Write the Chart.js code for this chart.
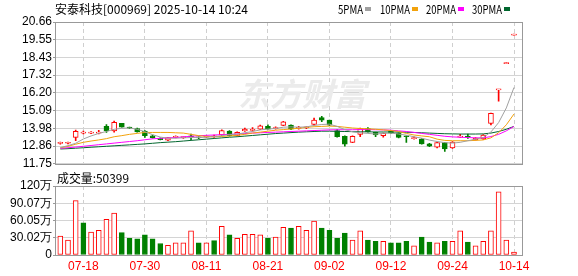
<!DOCTYPE html>
<html>
<head>
<meta charset="utf-8">
<script src="https://cdn.jsdelivr.net/npm/chart.js@4.4.1/dist/chart.umd.min.js"></script>
<style>
html, body { margin: 0; padding: 0; background: #fff; }
#wrap { position: relative; width: 578px; height: 276px; }
#price { position: absolute; left: 0; top: 0; }
#vol { position: absolute; left: 0; top: 172px; }
</style>
</head>
<body>
<div id="wrap">
  <canvas id="price" width="578" height="172"></canvas>
  <canvas id="vol" width="578" height="104"></canvas>
</div>
<script>
// 交易日
const dates = [
  '07-15','07-16','07-17','07-18','07-21','07-22','07-23','07-24','07-25','07-28',
  '07-29','07-30','07-31','08-01','08-04','08-05','08-06','08-07','08-08','08-11',
  '08-12','08-13','08-14','08-15','08-18','08-19','08-20','08-21','08-22','08-25',
  '08-26','08-27','08-28','08-29','09-01','09-02','09-03','09-04','09-05','09-08',
  '09-09','09-10','09-11','09-12','09-15','09-16','09-17','09-18','09-19','09-22',
  '09-23','09-24','09-25','09-26','09-29','09-30','10-09','10-10','10-13','10-14'
];

// K线
const opens = [
  13.03, 13.04, 13.41, 13.68, 13.68, 13.68, 14.10, 13.81, 14.30, 14.02,
  13.97, 13.81, 13.51, 13.35, 13.23, 13.41, 13.39, 13.46, 13.43, 13.43,
  13.44, 13.56, 13.81, 13.54, 13.81, 13.85, 13.93, 14.10, 13.96, 14.16,
  14.18, 13.98, 14.01, 14.22, 14.66, 14.49, 13.83, 13.47, 13.10, 13.60,
  13.97, 13.72, 13.51, 13.81, 13.68, 13.47, 13.33, 13.31, 13.01, 12.79,
  13.08, 12.75, 13.43, 13.45, 13.25, 13.31, 14.28, 16.40, 18.04, 19.84
];
const closes = [
  13.06, 13.07, 13.79, 13.71, 13.71, 13.71, 13.81, 14.35, 14.05, 13.99,
  13.76, 13.51, 13.39, 13.27, 13.39, 13.44, 13.42, 13.44, 13.38, 13.46,
  13.47, 13.83, 13.51, 13.72, 13.93, 13.88, 14.14, 13.93, 13.99, 14.39,
  13.93, 14.01, 14.03, 14.49, 14.49, 14.18, 13.45, 12.99, 13.47, 13.97,
  13.76, 13.56, 13.66, 13.68, 13.41, 13.45, 13.36, 13.00, 12.85, 13.08,
  12.68, 13.12, 13.45, 13.43, 13.37, 13.56, 14.92, 16.40, 18.04, 19.84
];
const highs = [
  13.12, 13.12, 13.87, 13.80, 13.78, 13.85, 14.22, 14.43, 14.30, 14.05,
  13.99, 13.83, 13.55, 13.38, 13.41, 13.50, 13.45, 13.62, 13.45, 13.50,
  13.55, 13.88, 13.83, 13.76, 14.00, 14.02, 14.18, 14.20, 14.08, 14.42,
  14.20, 14.10, 14.08, 14.62, 14.74, 14.50, 13.90, 13.50, 13.50, 14.00,
  14.02, 13.75, 13.68, 13.83, 13.70, 13.50, 13.45, 13.33, 13.03, 13.10,
  13.10, 13.15, 13.60, 13.62, 13.39, 13.58, 14.93, 16.40, 18.04, 19.84
];
const lows = [
  12.98, 13.00, 13.20, 13.62, 13.64, 13.62, 13.72, 13.73, 14.05, 13.95,
  13.74, 13.40, 13.36, 13.25, 13.21, 13.38, 13.35, 13.27, 13.33, 13.40,
  13.40, 13.50, 13.48, 13.50, 13.78, 13.80, 13.90, 13.92, 13.93, 14.14,
  13.90, 13.92, 13.95, 14.18, 14.40, 14.15, 13.42, 12.85, 13.08, 13.45,
  13.74, 13.45, 13.42, 13.66, 13.38, 13.10, 13.30, 12.98, 12.83, 12.75,
  12.53, 12.72, 13.40, 13.35, 13.23, 13.28, 14.20, 15.69, 18.04, 19.84
];

// 均线
const ma5 = [
  12.77, 12.89, 13.04, 13.31, 13.50, 13.66, 13.78, 13.92, 13.98, 14.00,
  13.92, 13.76, 13.58, 13.43, 13.36, 13.36, 13.38, 13.40, 13.40, 13.42,
  13.45, 13.52, 13.58, 13.62, 13.70, 13.78, 13.88, 13.93, 13.97, 14.05,
  14.07, 14.05, 14.07, 14.16, 14.22, 14.24, 14.10, 13.90, 13.76, 13.70,
  13.66, 13.62, 13.66, 13.68, 13.62, 13.55, 13.45, 13.36, 13.24, 13.15,
  13.08, 13.05, 13.10, 13.20, 13.30, 13.40, 13.75, 14.34, 15.26, 16.55
];
const ma10 = [
  12.75, 12.85, 12.98, 13.10, 13.18, 13.25, 13.33, 13.45, 13.52, 13.60,
  13.66, 13.72, 13.72, 13.72, 13.72, 13.70, 13.68, 13.60, 13.52, 13.47,
  13.45, 13.47, 13.50, 13.54, 13.60, 13.68, 13.74, 13.80, 13.86, 13.90,
  13.94, 13.98, 14.04, 14.08, 14.10, 14.12, 14.10, 14.05, 14.00, 13.97,
  13.95, 13.92, 13.88, 13.84, 13.78, 13.66, 13.56, 13.50, 13.45, 13.30,
  13.22, 13.20, 13.20, 13.20, 13.22, 13.25, 13.38, 13.70, 14.20, 14.88
];
const ma20 = [
  12.72, 12.76, 12.80, 12.85, 12.90, 12.95, 13.00, 13.05, 13.10, 13.15,
  13.20, 13.26, 13.32, 13.35, 13.38, 13.40, 13.44, 13.48, 13.51, 13.54,
  13.56, 13.58, 13.60, 13.62, 13.65, 13.68, 13.70, 13.72, 13.74, 13.76,
  13.78, 13.80, 13.82, 13.84, 13.86, 13.88, 13.89, 13.89, 13.89, 13.90,
  13.90, 13.89, 13.88, 13.86, 13.82, 13.78, 13.72, 13.66, 13.60, 13.54,
  13.48, 13.44, 13.42, 13.40, 13.38, 13.38, 13.46, 13.60, 13.82, 14.10
];
const ma30 = [
  12.68, 12.70, 12.73, 12.76, 12.79, 12.82, 12.85, 12.88, 12.91, 12.94,
  12.97, 13.00, 13.04, 13.08, 13.11, 13.14, 13.18, 13.22, 13.26, 13.30,
  13.34, 13.38, 13.42, 13.45, 13.49, 13.53, 13.57, 13.61, 13.65, 13.68,
  13.71, 13.74, 13.76, 13.78, 13.80, 13.80, 13.79, 13.78, 13.77, 13.76,
  13.76, 13.75, 13.75, 13.75, 13.74, 13.73, 13.72, 13.70, 13.68, 13.66,
  13.64, 13.63, 13.62, 13.62, 13.62, 13.63, 13.68, 13.78, 13.92, 14.10
];

// 成交量(万股) 与涨跌
const volumes = [
  33, 26, 94.6, 56, 40, 43, 62, 73, 39, 29,
  28, 35, 28, 20, 17, 21, 21, 42, 21, 21,
  25, 50, 35, 29, 36, 36, 35, 29, 31, 48,
  47, 50, 43, 59, 47, 43, 29, 38, 26, 42,
  26, 24, 24, 21, 21, 24, 16, 31, 22.5, 21,
  24, 24, 42, 22.5, 16, 24, 42, 110, 26, 5.04
];
const volUp = [
  1, 1, 1, 0, 1, 1, 1, 1, 0, 0,
  0, 0, 0, 0, 1, 1, 1, 1, 0, 1,
  0, 1, 0, 1, 1, 1, 1, 0, 1, 1,
  0, 1, 1, 1, 0, 0, 0, 0, 1, 1,
  0, 0, 1, 0, 0, 0, 1, 0, 0, 1,
  0, 1, 1, 0, 1, 1, 1, 1, 1, 1
];

// 刻度
const priceTicks = [11.75, 12.86, 13.98, 15.09, 16.20, 17.32, 18.43, 19.55, 20.66];
const volTicks = [0, 30.02, 60.05, 90.07, 120.1];
const volTickLabels = ['0', '30.02万', '60.05万', '90.07万', '120万'];
const xTickDates = ['07-18', '07-30', '08-11', '08-21', '09-02', '09-12', '09-24', '10-14'];

const titleText = '安泰科技[000969] 2025-10-14 10:24';
const volText = '成交量:50399';
const maNames = ['5PMA', '10PMA', '20PMA', '30PMA'];

const RED = '#ff0000';
const GREEN = '#008000';
const maColors = ['#a0a0a0', '#f2a20c', '#ff00ff', '#00662e'];
const axisFont = { family: '"Liberation Sans", Arial, sans-serif', size: 12 };
const cjkFont = '"Noto Sans CJK SC", "Liberation Sans", sans-serif';

const idx = dates.map((d, i) => i);
const isUp = idx.map(i => closes[i] >= opens[i]);
const xMin = -0.69, xMax = 60.04;

function dateTicks(scale) {
  scale.ticks = xTickDates.map(d => ({ value: dates.indexOf(d) }));
}

// 边框
const framePlugin = {
  id: 'frame',
  beforeDatasetsDraw(chart) {
    const a = chart.chartArea, ctx = chart.ctx;
    ctx.save();
    ctx.strokeStyle = '#999';
    ctx.lineWidth = 1;
    ctx.strokeRect(Math.round(a.left) + 0.5, Math.round(a.top) + 0.5,
      Math.round(a.right - a.left), Math.round(a.bottom - a.top));
    ctx.restore();
  }
};

// 标题、图例、水印
const priceHeader = {
  id: 'priceHeader',
  beforeDatasetsDraw(chart) {
    const ctx = chart.ctx;
    ctx.save();
    ctx.fillStyle = '#ebebeb';
    ctx.font = 'italic bold 32px ' + cjkFont;
    ctx.textBaseline = 'middle';
    ctx.fillText('东方财富', 238, 94);
    ctx.restore();
  },
  afterDraw(chart) {
    const ctx = chart.ctx;
    ctx.save();
    ctx.fillStyle = '#000';
    ctx.font = '12px ' + cjkFont;
    ctx.textBaseline = 'middle';
    ctx.fillText(titleText, 55, 9, 198);
    const tx = [338, 380, 426, 472];
    const tw = [25, 30, 30, 30];
    maNames.forEach((n, k) => {
      ctx.fillStyle = '#000';
      ctx.fillText(n, tx[k], 9, tw[k]);
      ctx.fillStyle = maColors[k];
      ctx.fillRect(tx[k] + tw[k] + 2, 7, 6, 4);
    });
    ctx.restore();
  }
};

const volHeader = {
  id: 'volHeader',
  afterDraw(chart) {
    const ctx = chart.ctx;
    ctx.save();
    ctx.fillStyle = '#000';
    ctx.font = '12px ' + cjkFont;
    ctx.textBaseline = 'middle';
    ctx.fillText(volText, 57, 6, 72);
    ctx.restore();
  }
};

const maSets = [ma5, ma10, ma20, ma30].map((arr, k) => ({
  type: 'line',
  data: arr.map((v, i) => ({ x: i, y: v })),
  borderColor: maColors[k],
  borderWidth: 1,
  pointRadius: 0,
  tension: 0,
  order: 0
}));

new Chart(document.getElementById('price'), {
  type: 'bar',
  data: {
    datasets: [
      ...maSets,
      {
        data: idx.map(i => ({ x: i, y: [opens[i], closes[i]] })),
        backgroundColor: idx.map(i => isUp[i] ? '#fff' : GREEN),
        borderColor: idx.map(i => isUp[i] ? RED : GREEN),
        borderWidth: 1,
        borderSkipped: false,
        barThickness: 5,
        minBarLength: 1,
        grouped: false,
        order: 1
      },
      {
        data: idx.map(i => ({ x: i, y: [lows[i], highs[i]] })),
        backgroundColor: idx.map(i => isUp[i] ? RED : GREEN),
        borderWidth: 0,
        barThickness: 1,
        minBarLength: 1,
        grouped: false,
        order: 2
      }
    ]
  },
  options: {
    responsive: false,
    animation: false,
    devicePixelRatio: 1,
    layout: { padding: { left: 0, right: 56, top: 22, bottom: 7 } },
    plugins: { legend: { display: false }, tooltip: { enabled: false } },
    scales: {
      x: {
        type: 'linear', min: xMin, max: xMax, offset: false,
        afterBuildTicks: dateTicks,
        ticks: { display: false },
        grid: { color: '#cfcfcf', drawTicks: false, offset: false },
        border: { display: false, dash: [4, 3] },
        afterFit: s => { s.height = 0; }
      },
      y: {
        min: 11.75, max: 20.66,
        afterBuildTicks: s => { s.ticks = priceTicks.map(v => ({ value: v })); },
        ticks: { callback: v => v.toFixed(2), color: '#000', font: axisFont, padding: 1, autoSkip: false },
        grid: { color: '#d4d4d4', tickLength: 2, tickColor: '#999' },
        border: { color: '#999' },
        afterFit: s => { s.width = 55; }
      }
    }
  },
  plugins: [framePlugin, priceHeader]
});

new Chart(document.getElementById('vol'), {
  type: 'bar',
  data: {
    datasets: [{
      data: volumes.map((v, i) => ({ x: i, y: v })),
      backgroundColor: volUp.map(u => u ? '#fff' : GREEN),
      borderColor: volUp.map(u => u ? RED : GREEN),
      borderWidth: 1,
      borderSkipped: false,
      barThickness: 5
    }]
  },
  options: {
    responsive: false,
    animation: false,
    devicePixelRatio: 1,
    layout: { padding: { left: 0, right: 56, top: 14, bottom: 0 } },
    plugins: { legend: { display: false }, tooltip: { enabled: false } },
    scales: {
      x: {
        type: 'linear', min: xMin, max: xMax, offset: false,
        afterBuildTicks: dateTicks,
        ticks: { callback: v => dates[v], color: RED, font: axisFont, padding: 4, maxRotation: 0, autoSkip: false },
        grid: { color: '#cfcfcf', drawTicks: false, offset: false },
        border: { display: false, dash: [4, 3] },
        afterFit: s => { s.height = 21; }
      },
      y: {
        min: 0, max: 120.1,
        afterBuildTicks: s => { s.ticks = volTicks.map(v => ({ value: v })); },
        ticks: { callback: (v, i) => volTickLabels[i], color: '#000', font: axisFont, padding: 1, autoSkip: false },
        grid: { color: '#d4d4d4', tickLength: 2, tickColor: '#999' },
        border: { color: '#999' },
        afterFit: s => { s.width = 55; }
      }
    }
  },
  plugins: [framePlugin, volHeader]
});
</script>
</body>
</html>
